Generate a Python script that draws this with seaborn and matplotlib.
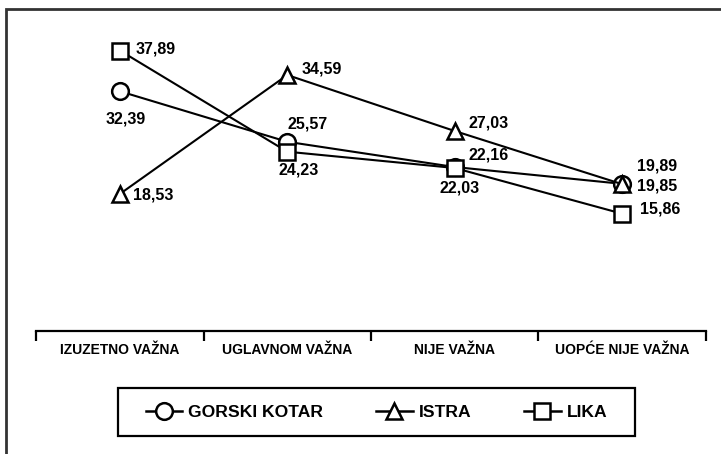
import matplotlib
matplotlib.use("Agg")
import matplotlib.pyplot as plt
from matplotlib.lines import Line2D
from matplotlib.patches import Rectangle
import seaborn as sns
import pandas as pd

categories = ["IZUZETNO VAŽNA", "UGLAVNOM VAŽNA", "NIJE VAŽNA", "UOPĆE NIJE VAŽNA"]
regions = ["GORSKI KOTAR", "ISTRA", "LIKA"]
gorski_kotar = [32.39, 25.57, 22.16, 19.89]
istra = [18.53, 34.59, 27.03, 19.85]
lika = [37.89, 24.23, 22.03, 15.86]
value_labels = {
    "GORSKI KOTAR": ["32,39", "25,57", "22,16", "19,89"],
    "ISTRA": ["18,53", "34,59", "27,03", "19,85"],
    "LIKA": ["37,89", "24,23", "22,03", "15,86"],
}

# label offsets in pixels (dx, dy, ha)
offsets = {
    "GORSKI KOTAR": [(6, -28, "center"), (20, 18, "center"), (14, 12, "left"), (15, 18, "left")],
    "ISTRA": [(13, -1, "left"), (14, 6, "left"), (14, 8, "left"), (15, -2, "left")],
    "LIKA": [(16, 2, "left"), (11, -18, "center"), (5, -20, "center"), (18, 5, "left")],
}

df = pd.DataFrame({
    "kategorija": categories * 3,
    "regija": [r for r in regions for _ in categories],
    "postotak": gorski_kotar + istra + lika,
})

plt.rcParams["font.family"] = ["Liberation Sans", "DejaVu Sans"]
plt.rcParams["font.weight"] = "bold"

fig = plt.figure(figsize=(7.21, 4.54), dpi=100)
ax = fig.add_axes([36.3 / 721, 1 - 331 / 454, 669.3 / 721, 296 / 454])

markers = {"GORSKI KOTAR": "o", "ISTRA": "^", "LIKA": "s"}
sns.lineplot(
    data=df, x="kategorija", y="postotak", hue="regija", style="regija",
    markers=markers, dashes=False, sort=False, ax=ax,
    palette={r: "black" for r in regions},
    markersize=12, markerfacecolor="white", markeredgecolor="black",
    markeredgewidth=1.8, linewidth=1.5, legend=False,
)

for reg, vals in zip(regions, [gorski_kotar, istra, lika]):
    for i, v in enumerate(vals):
        dx, dy, ha = offsets[reg][i]
        ax.annotate(value_labels[reg][i], (i, v), xytext=(dx, dy),
                    textcoords="offset pixels", ha=ha, va="center",
                    fontsize=11.5, fontweight="bold")

ax.set_xlim(-0.5, 3.5)
ax.set_ylim(0, 40)
for s in ["top", "left", "right"]:
    ax.spines[s].set_visible(False)
ax.spines["bottom"].set_linewidth(1.6)
ax.set_yticks([])
ax.set_xticks([-0.5, 0.5, 1.5, 2.5, 3.5])
ax.set_xticklabels([])
ax.tick_params(axis="x", which="major", length=7, width=1.6, direction="out")
ax.set_xticks([0, 1, 2, 3], minor=True)
ax.set_xticklabels(categories, minor=True, fontsize=10, fontweight="bold")
ax.tick_params(axis="x", which="minor", length=0, pad=9)
ax.set_xlabel("")
ax.set_ylabel("")
ax.patch.set_visible(False)

handles = [
    Line2D([], [], color="black", lw=1.8, marker=markers[r], markersize=12,
           markerfacecolor="white", markeredgecolor="black", markeredgewidth=1.8)
    for r in regions
]
leg = fig.legend(handles, regions, loc="center",
                 bbox_to_anchor=(376.5 / 721, 1 - 412 / 454),
                 ncol=3, frameon=False, handlelength=2.1,
                 columnspacing=3.0, handletextpad=0.35, borderpad=0.5,
                 prop={"weight": "bold", "size": 12.6})

fig.patches.append(Rectangle((118 / 721, 1 - 436 / 454), 517 / 721, 48 / 454,
                             transform=fig.transFigure, fill=False,
                             edgecolor="black", linewidth=1.6))
fig.patches.append(Rectangle((6 / 721, -0.1), 1.1, 1 - 9 / 454 + 0.1,
                             transform=fig.transFigure, fill=False,
                             edgecolor="#333333", linewidth=2))

fig.savefig("out.png", dpi=100)
